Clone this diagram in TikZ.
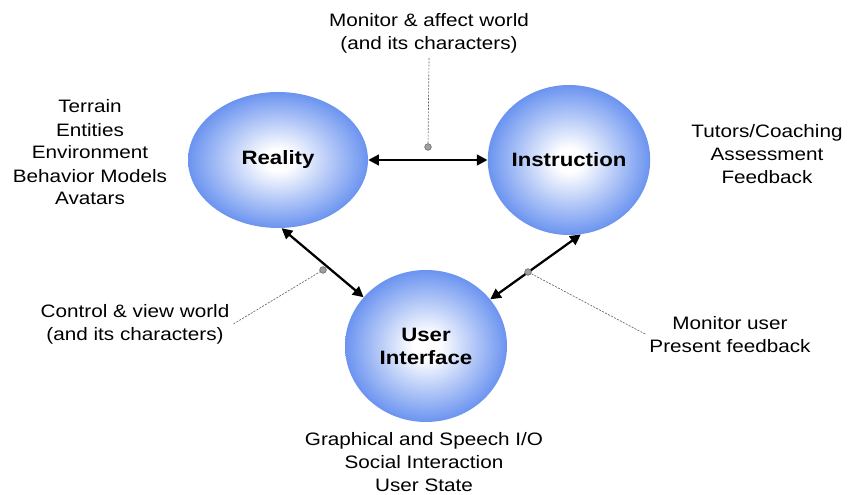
\documentclass[tikz,border=0pt]{standalone}
\usepackage{fontspec}
\setmainfont{Liberation Sans}[FakeStretch=1.15]
\usetikzlibrary{arrows.meta,shapes.geometric}
\definecolor{ellblue}{RGB}{72,122,236}
\definecolor{leadgray}{RGB}{100,100,100}
\pgfdeclareradialshading{ellshade}{\pgfpoint{0bp}{0bp}}{color(0bp)=(white); color(4bp)=(white); color(30bp)=(ellblue); color(50bp)=(ellblue)}
\tikzset{
  ell/.style={ellipse, inner sep=0pt, shading=ellshade, font=\fontsize{14.5pt}{17.25pt}\selectfont\bfseries, align=center},
  txt/.style={font=\fontsize{13.5pt}{17.25pt}\selectfont, align=center, inner sep=3pt},
  biarrow/.style={{Triangle[length=8pt,width=8pt]}-{Triangle[length=8pt,width=8pt]}, line width=1.7pt, black},
  lead/.style={draw=leadgray, line width=0.5pt, dash pattern=on 1.5pt off 1pt},
  marker/.style={circle, draw=leadgray, fill=gray!75, inner sep=0pt, minimum size=5pt}
}
\begin{document}
\begin{tikzpicture}[x=0.75pt, y=-0.75pt]
\useasboundingbox (0,0) rectangle (849,495);
% ellipses
\node[ell, minimum width=135pt, minimum height=102pt] (real) at (278,160) {Reality};
\node[ell, minimum width=118.5pt, minimum height=112.5pt] (instr) at (569,160) {Instruction};
\node[ell, minimum width=121.5pt, minimum height=114pt] (ui) at (426,346) {User\\Interface};
% text nodes (base anchor = baseline of last line)
\node[txt, anchor=base] (mon) at (429,50) {Monitor \& affect world\\(and its characters)};
\node[txt, anchor=base] (left) at (90,205) {Terrain\\Entities\\Environment\\Behavior Models\\Avatars};
\node[txt, anchor=base] (right) at (767,184) {Tutors/Coaching\\Assessment\\Feedback};
\node[txt, anchor=base] (ctrl) at (135,340) {Control \& view world\\(and its characters)};
\node[txt, anchor=base] (monu) at (730,352) {Monitor user\\Present feedback};
\node[txt, anchor=base] (bottom) at (424,491) {Graphical and Speech I/O\\Social Interaction\\User State};
% arrows
\draw[biarrow] (real.east) -- (instr.west);
\draw[biarrow] (real.-87) -- (ui.142);
\draw[biarrow] (instr.-81) -- (ui.36);
% markers and leaders
\coordinate (m1) at (428,147);
\coordinate (m2) at (323,270);
\coordinate (m3) at (528,272);
\draw[lead] (mon.south) -- (m1);
\draw[lead] (ctrl.east) -- (m2);
\draw[lead] (monu.west) -- (m3);
\node[marker] at (m1) {};
\node[marker] at (m2) {};
\node[marker] at (m3) {};
\end{tikzpicture}
\end{document}
